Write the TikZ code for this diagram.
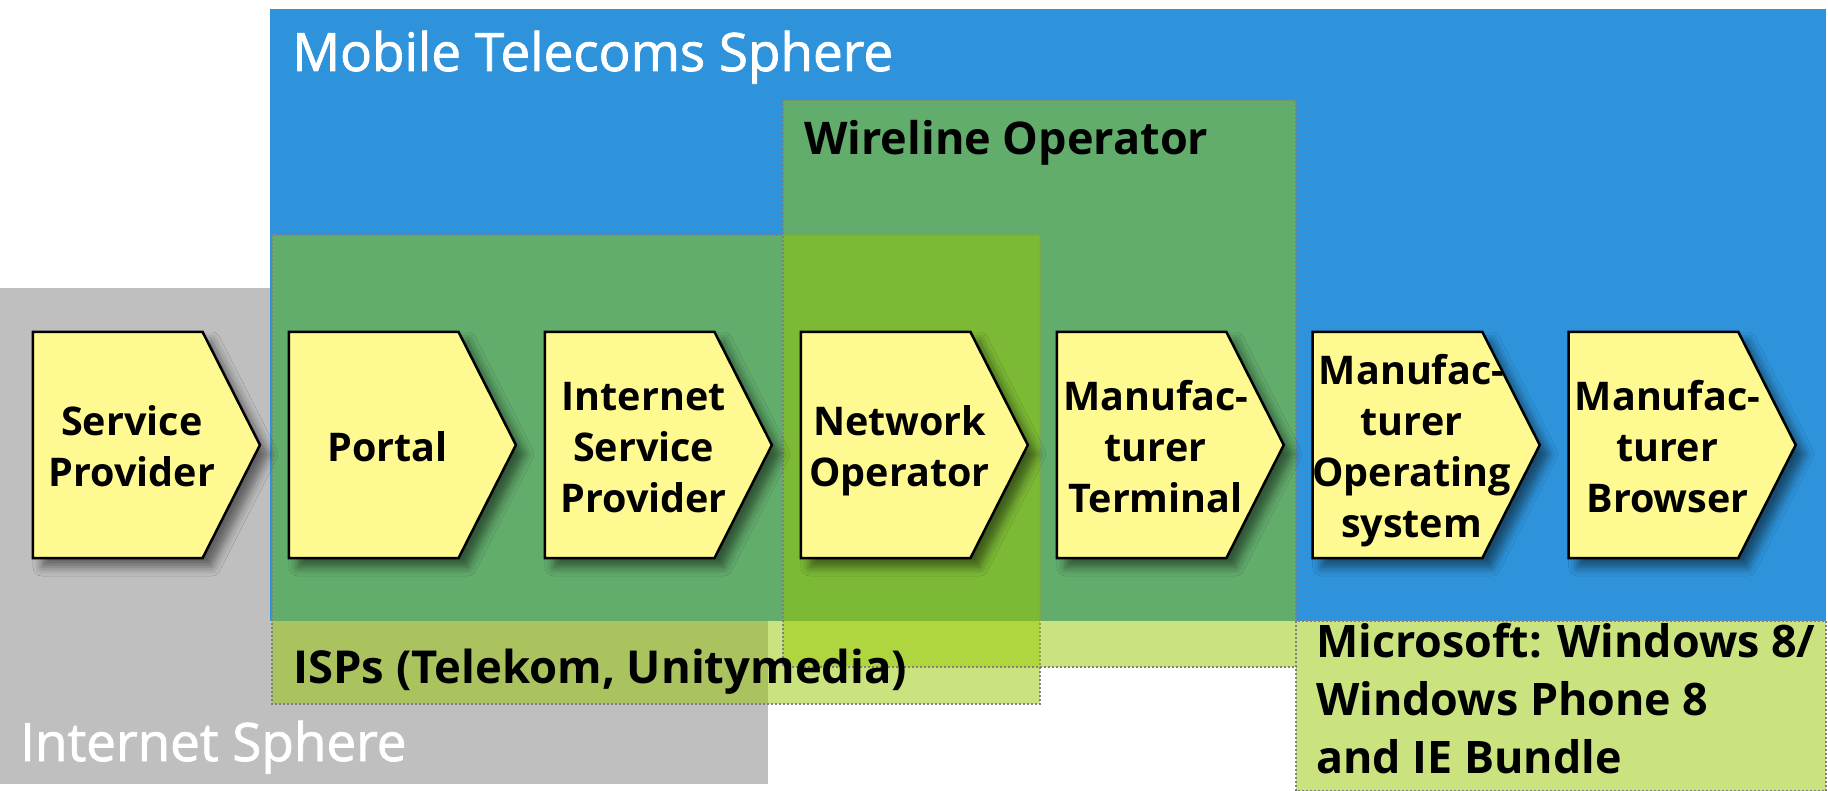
\documentclass[tikz,border=0pt]{standalone}
\usepackage{fontspec}
\setmainfont{Open Sans}
\newfontfamily\spherefont[FakeBold=1.5]{Open Sans}
\usetikzlibrary{positioning, shapes.symbols, shadows.blur}

\definecolor{telblue}{RGB}{46,147,218}
\definecolor{netgray}{RGB}{191,191,191}
\definecolor{ownergreen}{RGB}{150,200,0}
\definecolor{chevyellow}{RGB}{255,249,145}

\newcommand{\chevtxt}[1]{\hspace*{28pt}\makebox[0pt]{\raisebox{-6pt}[\height][\depth]{\begin{tabular}{@{}c@{}}#1\end{tabular}}}}

\tikzstyle{chev} = [signal, signal to=east, signal pointer angle=126.2, draw=black, line width=2.5pt,
 fill=chevyellow, minimum width=227pt, minimum height=226pt, inner sep=0pt,
 font=\fontsize{39.5}{51}\selectfont\bfseries,
 blur shadow={shadow xshift=9pt, shadow yshift=-9pt, shadow blur radius=9pt, shadow opacity=50}]
\tikzstyle{ownerbox} = [fill=ownergreen, fill opacity=0.5, draw=gray, line width=1.5pt, dash pattern=on 2pt off 2pt]
\tikzstyle{spherelabel} = [anchor=base west, inner sep=0pt, text=white, font=\fontsize{53}{60}\spherefont]
\tikzstyle{owner} = [anchor=base west, inner sep=0pt, align=left]

\begin{document}
\begin{tikzpicture}[x=1pt, y=-1pt]
\useasboundingbox (0,0) rectangle (1828,791);

% spheres
\fill[netgray] (0,288) rectangle (768,784);
\fill[telblue] (270,9) rectangle (1826,621);

% owners
\draw[ownerbox] (1296,621) rectangle (1826,791);
\draw[ownerbox] (272,235) rectangle (1040,704);
\draw[ownerbox] (783,100) rectangle (1296,667);

\node (SERVICE_PROVIDER) [chev, anchor=west] at (31.7,445) {\chevtxt{Service\\Provider}};
\node (PORTAL) [chev, right=26.3pt of SERVICE_PROVIDER] {\chevtxt{Portal}};
\node (ISP) [chev, right=26.3pt of PORTAL] {\chevtxt{Internet\\Service\\Provider}};
\node (NETWORK_OPERATOR) [chev, right=26.3pt of ISP] {\chevtxt{Network\\Operator}};
\node (TERMINAL) [chev, right=26.3pt of NETWORK_OPERATOR] {\chevtxt{Manufac-\\turer\\Terminal}};
\node (OS) [chev, right=26.3pt of TERMINAL] {\chevtxt{Manufac-\\turer\\Operating\\system}};
\node (BROWSER) [chev, right=26.3pt of OS] {\chevtxt{Manufac-\\turer\\Browser}};

\node (MOBILE_SPHERE) [spherelabel] at (292,71) {Mobile Telecoms Sphere};
\node (INTERNET_SPHERE) [spherelabel] at (20,761) {Internet Sphere};
\node (WIRELINE) [owner, font=\fontsize{45}{52}\selectfont\bfseries] at (804,155) {Wireline Operator};
\node (ISPS) [owner, font=\fontsize{45.4}{54}\selectfont\bfseries] at (293,683) {ISPs (Telekom, Unitymedia)};
\node (MICROSOFT) [owner, font=\fontsize{44.8}{58}\selectfont\bfseries] at (1316,773)
 {Microsoft: Windows 8/\\Windows Phone 8\\and IE Bundle};

\end{tikzpicture}
\end{document}
